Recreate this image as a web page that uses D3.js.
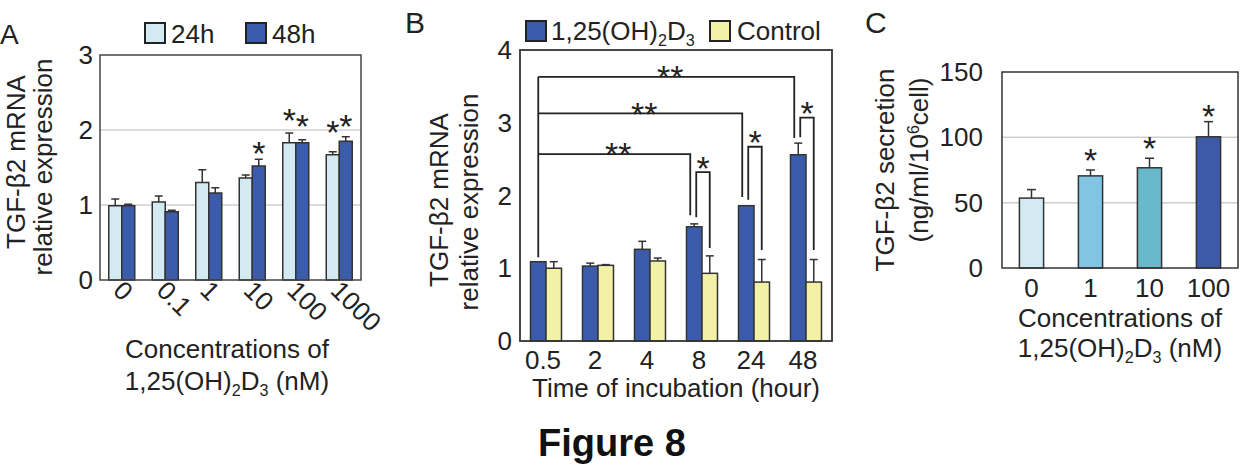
<!DOCTYPE html>
<html><head><meta charset="utf-8">
<script src="https://cdn.jsdelivr.net/npm/d3@7"></script>
<style>
body{margin:0;background:#fff;}
svg{display:block;font-family:"Liberation Sans",Arial,sans-serif;}
</style></head>
<body>
<svg id="chart" width="1246" height="466"></svg>
<script>
// ---------- Data ----------
// Panel A
const catsA = ["0","0.1","1","10","100","1000"];
const seriesA = ["24h","48h"];
const a24 = [0.99,1.04,1.30,1.36,1.83,1.67];
const a24err = [0.09,0.08,0.17,0.04,0.13,0.04];
const a48 = [0.99,0.91,1.16,1.52,1.83,1.85];
const a48err = [0.02,0.02,0.07,0.09,0.04,0.06];
const ticksA = [0,1,2,3];
const starsA = [["10",1,1.80],["100",0,2.24],["100",1,2.17],["1000",0,2.09],["1000",1,2.16]];
// Panel B
const catsB = ["0.5","2","4","8","24","48"];
const seriesB = ["1,25(OH)2D3","Control"];
const bVitD = [1.09,1.03,1.26,1.57,1.86,2.56];
const bVitDerr = [0.0,0.04,0.11,0.04,0.0,0.16];
const bCtrl = [1.00,1.04,1.10,0.93,0.81,0.81];
const bCtrlErr = [0.09,0.01,0.04,0.24,0.31,0.31];
const ticksB = [0,1,2,3,4];
// long brackets: [to category, top y, right leg end y, label]
const bracketsLong = [["8",2.57,1.73,"**"],["24",3.13,1.98,"**"],["48",3.63,2.79,"**"]];
const bracketLeftEnd = 1.15;
// pair brackets: [category, top y, left leg end y, right leg end y, label]
const bracketsPair = [["8",2.32,1.70,1.28,"*"],["24",2.67,1.94,1.25,"*"],["48",3.07,2.80,1.25,"*"]];
// Panel C
const catsC = ["0","1","10","100"];
const cVals = [53.5,70.5,76.7,100.4];
const cErr = [6.5,4.5,7.3,11.6];
const ticksC = [0,50,100,150];
const starsC = [["1",88.8],["10",98],["100",122.4]];

// ---------- Styles ----------
const ink = "#222";
const colA = ["#d3eaf2","#3b5bab"];
const colB = ["#3b5bab","#f3f1a6"];
const colC = ["#d3eaf3","#82c5e2","#68b9c9","#3d5aa8"];
const fs = 26;

const svg = d3.select("#chart");

function subLabel(sel, x, y, anchor, size, unit){
  const t = sel.append("text").attr("x",x).attr("y",y).attr("text-anchor",anchor)
    .attr("font-size",size).attr("fill",ink);
  t.append("tspan").text("1,25(OH)");
  t.append("tspan").text("2").attr("font-size",size*0.62).attr("dy",6);
  t.append("tspan").text("D").attr("dy",-6);
  t.append("tspan").text("3").attr("font-size",size*0.62).attr("dy",6);
  if(unit) t.append("tspan").text(" (nM)").attr("dy",-6);
  return t;
}
function star(g, x, y, txt, size){
  g.append("text").attr("x",x).attr("y",y + size*0.6).attr("text-anchor","middle")
    .attr("font-size",size).attr("fill",ink).text(txt);
}
function errBar(g, x, yTop, yBar, w){
  g.append("line").attr("x1",x).attr("x2",x).attr("y1",yBar).attr("y2",yTop).attr("stroke","#333").attr("stroke-width",1.5);
  g.append("line").attr("x1",x-w/2).attr("x2",x+w/2).attr("y1",yTop).attr("y2",yTop).attr("stroke","#333").attr("stroke-width",1.5);
}
function yTicks(g, y, ticks, xRight){
  g.selectAll(null).data(ticks).join("text")
    .attr("x",xRight).attr("y",d=>y(d)+9).attr("text-anchor","end")
    .attr("font-size",fs).attr("fill",ink).text(d=>d);
}

// ---------- Panel A ----------
{
  const g = svg.append("g");
  const x0 = d3.scaleBand().domain(catsA).range([100,361]);
  const x1 = d3.scaleBand().domain([0,1]).range([0,26]);
  const off = (x0.bandwidth()-26)/2;
  const y = d3.scaleLinear().domain([0,3]).range([280,55]);
  [1,2].forEach(v=>g.append("line").attr("x1",100).attr("x2",361).attr("y1",y(v)).attr("y2",y(v)).attr("stroke","#cfcfcf").attr("stroke-width",1.5));
  const vals=[a24,a48], errs=[a24err,a48err];
  catsA.forEach((c,i)=>{
    [0,1].forEach(s=>{
      const bx = x0(c)+off+x1(s);
      errBar(g, bx+x1.bandwidth()/2, y(vals[s][i]+errs[s][i]), y(vals[s][i]), 8);
      g.append("rect").attr("x",bx).attr("y",y(vals[s][i])).attr("width",x1.bandwidth()).attr("height",y(0)-y(vals[s][i]))
        .attr("fill",colA[s]).attr("stroke","#333").attr("stroke-width",1.5);
    });
  });
  g.append("rect").attr("x",100).attr("y",55).attr("width",261).attr("height",225).attr("fill","none").attr("stroke","#444").attr("stroke-width",1.5);
  starsA.forEach(([c,s,v])=>star(g, x0(c)+off+x1(s)+x1.bandwidth()/2, y(v), "*", 34));
  yTicks(g, y, ticksA, 93);
  g.selectAll(null).data(catsA).join("text")
    .attr("transform",d=>`translate(${x0(d)+x0.bandwidth()/2-10},${292}) rotate(45)`)
    .attr("font-size",fs).attr("fill",ink).text(d=>d);
  g.append("text").attr("x",227).attr("y",358).attr("text-anchor","middle").attr("font-size",fs).attr("fill",ink).text("Concentrations of");
  subLabel(g, 227, 390, "middle", fs, true);
  g.append("text").attr("transform","translate(25,162) rotate(-90)").attr("text-anchor","middle").attr("font-size",fs).attr("fill",ink).text("TGF-β2 mRNA");
  g.append("text").attr("transform","translate(52,167) rotate(-90)").attr("text-anchor","middle").attr("font-size",fs).attr("fill",ink).text("relative expression");
  g.append("text").attr("x",0).attr("y",44).attr("font-size",28).attr("fill",ink).text("A");
  // legend
  const lx=[145,246];
  seriesA.forEach((s,i)=>{
    g.append("rect").attr("x",lx[i]).attr("y",23).attr("width",20).attr("height",20).attr("fill",colA[i]).attr("stroke","#222").attr("stroke-width",2);
    g.append("text").attr("x",lx[i]+26).attr("y",43).attr("font-size",fs).attr("fill",ink).text(s);
  });
}

// ---------- Panel B ----------
{
  const g = svg.append("g");
  const x0 = d3.scaleBand().domain(catsB).range([520,832]);
  const x1 = d3.scaleBand().domain([0,1]).range([0,31]);
  const off = (x0.bandwidth()-31)/2;
  const y = d3.scaleLinear().domain([0,4]).range([341,50]);
  const vals=[bVitD,bCtrl], errs=[bVitDerr,bCtrlErr];
  catsB.forEach((c,i)=>{
    [0,1].forEach(s=>{
      const bx = x0(c)+off+x1(s);
      if(errs[s][i]>0) errBar(g, bx+x1.bandwidth()/2, y(vals[s][i]+errs[s][i]), y(vals[s][i]), 8);
      g.append("rect").attr("x",bx).attr("y",y(vals[s][i])).attr("width",x1.bandwidth()).attr("height",y(0)-y(vals[s][i]))
        .attr("fill",colB[s]).attr("stroke","#333").attr("stroke-width",1.5);
    });
  });
  g.append("rect").attr("x",520).attr("y",50).attr("width",312).attr("height",291).attr("fill","none").attr("stroke","#333").attr("stroke-width",1.8);
  const cx = (c,s)=>x0(c)+off+x1(s)+x1.bandwidth()/2;
  const lw = 1.8;
  const leftX = cx("0.5",0);
  g.append("line").attr("x1",leftX).attr("x2",leftX).attr("y1",y(d3.max(bracketsLong,d=>d[1]))).attr("y2",y(bracketLeftEnd)).attr("stroke","#222").attr("stroke-width",lw);
  bracketsLong.forEach(([c,top,end,lab])=>{
    const rx = cx(c,0)-4;
    g.append("path").attr("d",`M${leftX},${y(top)}H${rx}V${y(end)}`).attr("fill","none").attr("stroke","#222").attr("stroke-width",lw);
    star(g,(leftX+rx)/2+4,y(top)-8,lab,34);
  });
  bracketsPair.forEach(([c,top,le,re,lab])=>{
    const lx2 = cx(c,0)+2, rx2 = cx(c,1);
    g.append("path").attr("d",`M${lx2},${y(le)}V${y(top)}H${rx2}V${y(re)}`).attr("fill","none").attr("stroke","#222").attr("stroke-width",lw);
    star(g,(lx2+rx2)/2,y(top)-13,lab,34);
  });
  yTicks(g, y, ticksB, 512);
  g.selectAll(null).data(catsB).join("text")
    .attr("x",d=>x0(d)+x0.bandwidth()/2-3).attr("y",369).attr("text-anchor","middle")
    .attr("font-size",fs).attr("fill",ink).text(d=>d);
  g.append("text").attr("x",676).attr("y",397).attr("text-anchor","middle").attr("font-size",fs).attr("fill",ink).text("Time of incubation (hour)");
  g.append("text").attr("transform","translate(448,200) rotate(-90)").attr("text-anchor","middle").attr("font-size",fs).attr("fill",ink).text("TGF-β2 mRNA");
  g.append("text").attr("transform","translate(478,202) rotate(-90)").attr("text-anchor","middle").attr("font-size",fs).attr("fill",ink).text("relative expression");
  g.append("text").attr("x",405).attr("y",33).attr("font-size",30).attr("fill",ink).text("B");
  // legend
  g.append("rect").attr("x",526).attr("y",21).attr("width",20).attr("height",20).attr("fill",colB[0]).attr("stroke","#222").attr("stroke-width",2);
  subLabel(g, 551, 40, "start", fs, false);
  g.append("rect").attr("x",710).attr("y",21).attr("width",20).attr("height",20).attr("fill",colB[1]).attr("stroke","#222").attr("stroke-width",2);
  g.append("text").attr("x",737).attr("y",40).attr("font-size",fs).attr("fill",ink).text(seriesB[1]);
}

// ---------- Panel C ----------
{
  const g = svg.append("g");
  const x = d3.scaleBand().domain(catsC).range([1002,1238]).paddingInner(0.59).paddingOuter(0.295);
  const y = d3.scaleLinear().domain([0,150]).range([268,72]);
  [50,100].forEach(v=>g.append("line").attr("x1",1002).attr("x2",1238).attr("y1",y(v)).attr("y2",y(v)).attr("stroke","#cfcfcf").attr("stroke-width",1.5));
  catsC.forEach((c,i)=>{
    errBar(g, x(c)+x.bandwidth()/2, y(cVals[i]+cErr[i]), y(cVals[i]), 9);
    g.append("rect").attr("x",x(c)).attr("y",y(cVals[i])).attr("width",x.bandwidth()).attr("height",y(0)-y(cVals[i]))
      .attr("fill",colC[i]).attr("stroke","#333").attr("stroke-width",1.5);
  });
  g.append("rect").attr("x",1002).attr("y",72).attr("width",236).attr("height",196).attr("fill","none").attr("stroke","#333").attr("stroke-width",1.5);
  starsC.forEach(([c,v])=>star(g, x(c)+x.bandwidth()/2, y(v), "*", 34));
  yTicks(g, y, ticksC, 983);
  g.selectAll(null).data(catsC).join("text")
    .attr("x",d=>x(d)+x.bandwidth()/2).attr("y",297).attr("text-anchor","middle")
    .attr("font-size",fs).attr("fill",ink).text(d=>d);
  g.append("text").attr("x",1120).attr("y",327).attr("text-anchor","middle").attr("font-size",fs).attr("fill",ink).text("Concentrations of");
  subLabel(g, 1120, 357, "middle", fs, true);
  g.append("text").attr("transform","translate(894,170) rotate(-90)").attr("text-anchor","middle").attr("font-size",fs).attr("fill",ink).text("TGF-β2 secretion");
  const t2 = g.append("text").attr("transform","translate(928,160) rotate(-90)").attr("text-anchor","middle").attr("font-size",fs).attr("fill",ink);
  t2.append("tspan").text("(ng/ml/10");
  t2.append("tspan").text("6").attr("font-size",16).attr("dy",-9);
  t2.append("tspan").text("cell)").attr("dy",9);
  g.append("text").attr("x",865).attr("y",33).attr("font-size",30).attr("fill",ink).text("C");
}

// ---------- Figure caption ----------
svg.append("text").attr("x",612).attr("y",456).attr("text-anchor","middle").attr("font-size",38)
  .attr("font-weight","bold").attr("fill","#111").text("Figure 8");
</script>
</body></html>
